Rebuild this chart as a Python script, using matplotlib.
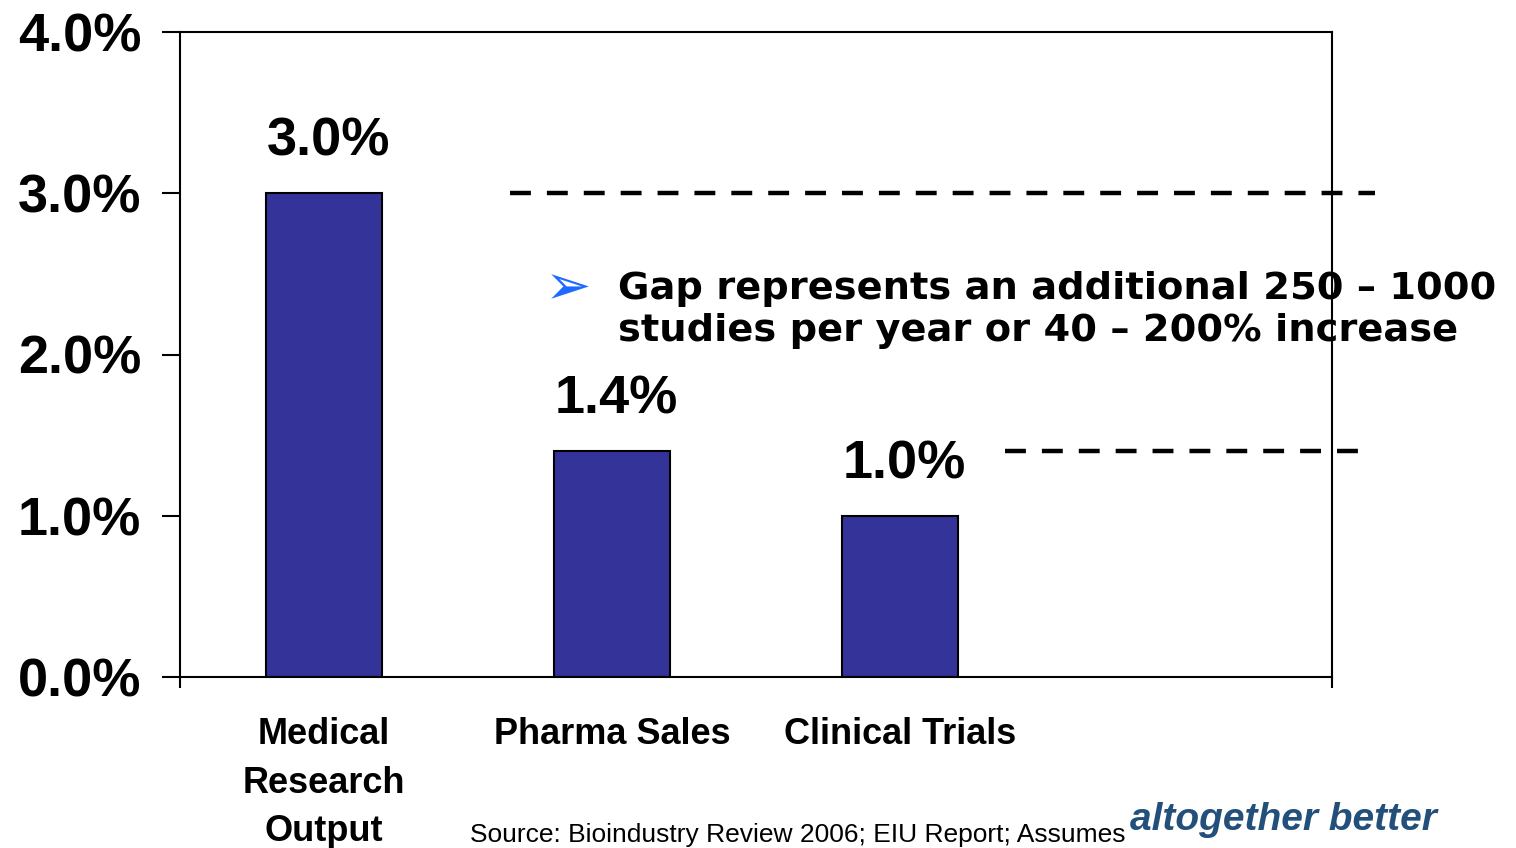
import matplotlib
matplotlib.use("Agg")
import matplotlib.pyplot as plt

categories = ["Medical\nResearch\nOutput", "Pharma Sales", "Clinical Trials", ""]
values = [3.0, 1.4, 1.0, None]
bar_labels = ["3.0%", "1.4%", "1.0%"]
ytick_vals = [0.0, 1.0, 2.0, 3.0, 4.0]
ytick_labels = ["0.0%", "1.0%", "2.0%", "3.0%", "4.0%"]
gap_levels = [3.0, 1.4]
annotation = "Gap represents an additional 250 \u2013 1000\nstudies per year or 40 \u2013 200% increase"
source_text = "Source: Bioindustry Review 2006; EIU Report; Assumes"
logo_text = "altogether better"

W, H = 1516, 848
fig = plt.figure(figsize=(W / 100, H / 100), dpi=100)
fig.patch.set_facecolor("white")
# axes: x 180..1332, y 32..677 (pixels)
ax = fig.add_axes([180 / W, 1 - 677 / H, (1332 - 180) / W, (677 - 32) / H])

xs = list(range(len(categories)))
bx = [x for x, v in zip(xs, values) if v is not None]
bv = [v for v in values if v is not None]
ax.bar(bx, bv, width=0.4, color="#333399", edgecolor="black", linewidth=1.5, zorder=2)

ax.set_xlim(-0.5, len(categories) - 0.5)
ax.set_ylim(0, 4.0)

for x, v, lab in zip(bx, bv, bar_labels):
    ax.annotate(lab, (x, v), xytext=(3, 19), textcoords="offset points",
                ha="center", va="bottom", fontsize=39, fontweight="bold",
                family="Liberation Sans", color="black")

ax.set_yticks(ytick_vals)
ax.set_yticklabels(ytick_labels, fontsize=39, fontweight="bold", family="Liberation Sans")
ax.tick_params(axis="y", direction="out", length=13, width=1.5, pad=15)

ax.set_xticks(xs)
ax.set_xticklabels(categories, fontsize=26, fontweight="bold", family="Liberation Sans",
                   linespacing=1.5)
ax.tick_params(axis="x", which="major", length=0, pad=29)
ax.set_xticks([-0.5, len(categories) - 0.5], minor=True)
ax.tick_params(axis="x", which="minor", direction="out", length=8, width=1.5)

for s in ax.spines.values():
    s.set_linewidth(1.5)
    s.set_color("black")

# dashed gap lines
ax.plot([0.646, 3.65], [gap_levels[0]] * 2, color="black", lw=3.2,
        linestyle=(0, (4.7, 3.6)), clip_on=False, zorder=3)
ax.plot([2.365, 3.62], [gap_levels[1]] * 2, color="black", lw=3.2,
        linestyle=(0, (4.7, 3.6)), clip_on=False, zorder=3)

# annotation
fig.text(545 / W, 1 - 289 / H, "\u27a2", fontsize=40, color="#1E6BFF",
         family="DejaVu Sans", ha="left", va="center")
fig.text(618 / W, 1 - 271 / H, annotation, fontsize=27.6, fontweight="bold",
         family="DejaVu Sans", ha="left", va="top", linespacing=1.2, color="black")

# footer
fig.text(470 / W, 1 - 847 / H, source_text, fontsize=19, family="Liberation Sans",
         ha="left", va="bottom", color="black")
fig.text(1130 / W, 1 - 820 / H, logo_text, fontsize=28, fontweight="bold", style="italic",
         family="Liberation Sans", ha="left", va="center", color="#23507A")

fig.savefig("out.png", dpi=100, facecolor="white")
